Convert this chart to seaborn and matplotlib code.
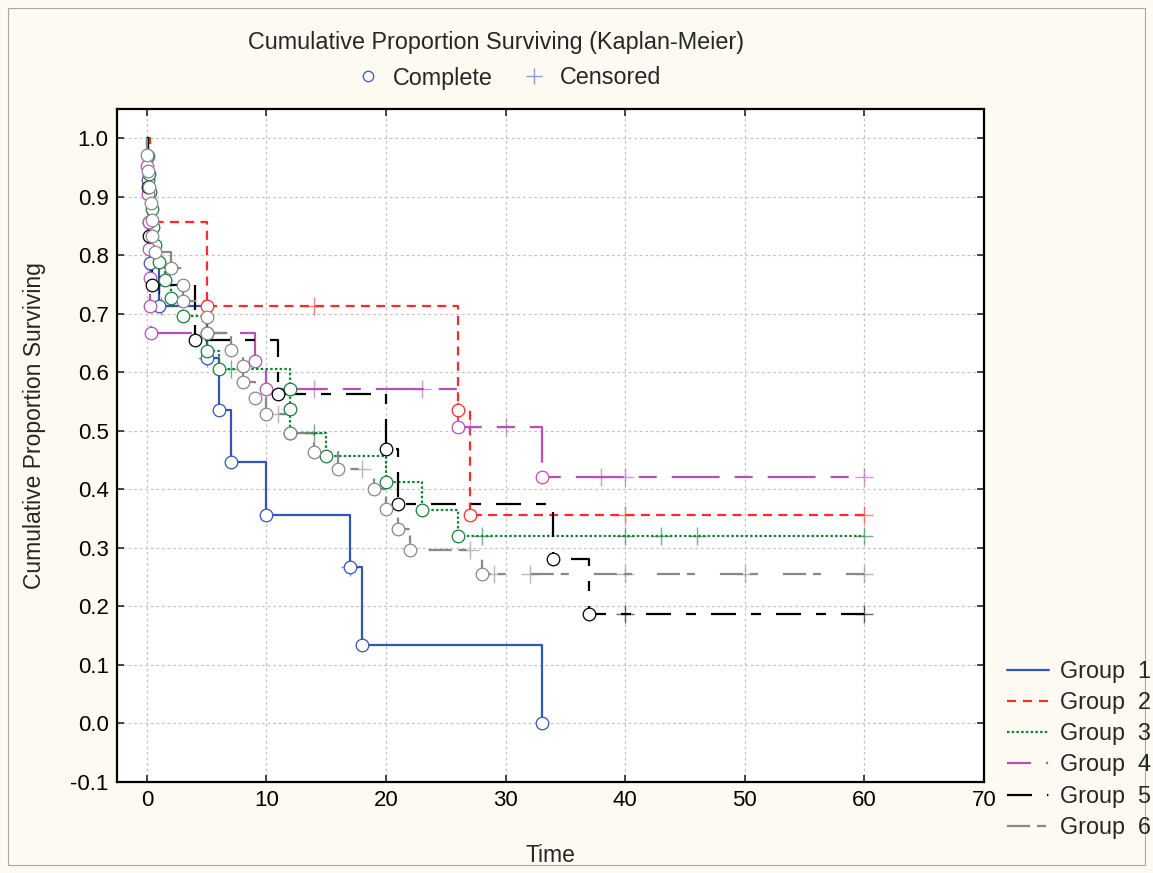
import numpy as np
import matplotlib
matplotlib.use("Agg")
import matplotlib.pyplot as plt
import seaborn as sns
from matplotlib.lines import Line2D
from matplotlib.patches import Rectangle

# ---------------- data ----------------
group_names = ["Group  1", "Group  2", "Group  3", "Group  4", "Group  5", "Group  6"]

g1_event_t = [0.1, 0.2, 0.3, 1, 5, 6, 7, 10, 17, 18, 33]
g1_event_s = [0.929, 0.857, 0.786, 0.714, 0.625, 0.536, 0.446, 0.357, 0.268, 0.134, 0.0]
g1_cens_t = [1.2, 5, 17]

g2_event_t = [0.3, 5, 26, 27]
g2_event_s = [0.857, 0.714, 0.536, 0.357]
g2_cens_t = [14, 40, 60]

g3_event_t = [0.1, 0.2, 0.3, 0.4, 0.5, 0.7, 1, 1.5, 2, 3, 5, 5, 6, 12, 12, 12, 15, 20, 23, 26]
g3_event_s = [0.970, 0.939, 0.909, 0.879, 0.848, 0.818, 0.788, 0.758, 0.727, 0.697,
              0.667, 0.636, 0.606, 0.571, 0.537, 0.497, 0.457, 0.413, 0.365, 0.321]
g3_cens_t = [7, 14, 28, 40, 43, 46, 60]

g4_event_t = [0.05, 0.1, 0.15, 0.2, 0.25, 0.3, 0.35, 9, 10, 26, 33]
g4_event_s = [0.952, 0.905, 0.857, 0.810, 0.762, 0.714, 0.667, 0.619, 0.571, 0.507, 0.422]
g4_cens_t = [14, 23, 27, 30, 38, 40, 60]

g5_event_t = [0.1, 0.2, 0.4, 4, 11, 20, 21, 34, 37]
g5_event_s = [0.917, 0.833, 0.75, 0.656, 0.5625, 0.469, 0.375, 0.281, 0.1875]
g5_cens_t = [1, 40, 60]

g6_event_t = [0.05, 0.1, 0.2, 0.35, 0.4, 0.45, 0.7, 2, 3, 3, 5, 5, 7, 8, 8, 9, 10,
              12, 14, 16, 19, 20, 21, 22, 28]
g6_event_s = [0.972, 0.944, 0.917, 0.889, 0.861, 0.833, 0.806, 0.778, 0.75, 0.722,
              0.694, 0.667, 0.639, 0.611, 0.583, 0.556, 0.528, 0.497, 0.464, 0.435,
              0.40, 0.366, 0.332, 0.297, 0.255]
g6_cens_t = [11, 18, 27, 29, 32, 40, 50, 60]

x_ticks = [0, 10, 20, 30, 40, 50, 60, 70]
y_ticks = [-0.1, 0.0, 0.1, 0.2, 0.3, 0.4, 0.5, 0.6, 0.7, 0.8, 0.9, 1.0]

# ---------------- styles ----------------
colors = ["#3355b5", "#ff2a2a", "#14803a", "#b850b8", "#000000", "#888888"]
line_patterns = [None, (6.5, 4.5), (1.8, 1.6), (34.5, 10.8, 13, 10.8),
                 (18, 10.8, 7.2, 10.8), (16.6, 5, 5.8, 18)]
legend_patterns = [None, (6.5, 5), (1.8, 1.6), (17.3, 10.8, 1.5, 10.8),
                   (18, 10.8, 1.0, 10.8), (16.6, 5, 6.5, 18)]

BG = "#fdfaf1"

sns.set_style("white")
plt.rcParams["font.family"] = ["Liberation Sans", "DejaVu Sans"]
plt.rcParams["lines.scale_dashes"] = False

W, H = 1153, 873
fig = plt.figure(figsize=(W / 100, H / 100), dpi=100, facecolor=BG)
ax_l, ax_r, ax_t, ax_b = 117, 984, 109, 782
ax = fig.add_axes([ax_l / W, 1 - ax_b / H, (ax_r - ax_l) / W, (ax_b - ax_t) / H])
ax.set_facecolor("white")

groups = [
    (g1_event_t, g1_event_s, g1_cens_t),
    (g2_event_t, g2_event_s, g2_cens_t),
    (g3_event_t, g3_event_s, g3_cens_t),
    (g4_event_t, g4_event_s, g4_cens_t),
    (g5_event_t, g5_event_s, g5_cens_t),
    (g6_event_t, g6_event_s, g6_cens_t),
]


def surv_at(t, et, es):
    idx = np.searchsorted(np.asarray(et), t, side="right")
    return 1.0 if idx == 0 else es[idx - 1]


for i, (et, es, ct) in enumerate(groups):
    c = colors[i]
    end = max(max(et), max(ct) if len(ct) else 0)
    xs = np.concatenate([[0.0], et, [end]])
    ys = np.concatenate([[1.0], es, [es[-1]]])
    ls = "-" if line_patterns[i] is None else (0, line_patterns[i])
    sns.lineplot(x=xs, y=ys, ax=ax, drawstyle="steps-post", estimator=None,
                 sort=False, color=c, lw=1.6, linestyle=ls, legend=False,
                 zorder=3)
    cy = [surv_at(t, et, es) for t in ct]
    sns.scatterplot(x=ct, y=cy, ax=ax, marker="+", s=170, color=c,
                    linewidth=1.0, alpha=0.6, legend=False, zorder=3.5)
    sns.scatterplot(x=et, y=es, ax=ax, marker="o", s=82, color=c,
                    facecolors="white", edgecolor=c, linewidth=0.9,
                    legend=False, zorder=4)

ax.set_xlim(-2.5, 70)
ax.set_ylim(-0.1, 1.05)
ax.set_xticks(x_ticks)
ax.set_yticks(y_ticks)
ax.set_xticklabels([str(v) for v in x_ticks])
ax.set_yticklabels([f"{v:.1f}" for v in y_ticks])
ax.grid(True, color="#c4c4c4", linestyle=(0, (2, 2)), lw=0.9)
ax.set_axisbelow(True)
ax.tick_params(direction="in", length=5, width=1.2, top=True, right=True,
               bottom=True, left=True, labelsize=16, pad=6, labelcolor="black")
for sp in ax.spines.values():
    sp.set_color("black")
    sp.set_linewidth(1.6)

ax.set_xlabel("Time", fontsize=16.5, va="center")
ax.xaxis.set_label_coords((550 - ax_l) / (ax_r - ax_l), (ax_b - 855) / (ax_b - ax_t))
ax.set_ylabel("Cumulative Proportion Surviving", fontsize=16.5, va="center")
ax.yaxis.set_label_coords((35 - ax_l) / (ax_r - ax_l), (ax_b - 426) / (ax_b - ax_t))

# Title and marker legend
fig.text(496 / W, 1 - 43 / H, "Cumulative Proportion Surviving (Kaplan-Meier)",
         ha="center", va="center", fontsize=16.8)
mk_handles = [
    Line2D([], [], marker="o", ls="none", markerfacecolor="none",
           markeredgecolor="#3a5ab0", ms=7.5, mew=0.9),
    Line2D([], [], marker="+", ls="none", color="#8c9bd2", ms=12, mew=1.0),
]
fig.legend(mk_handles, ["Complete", "Censored"], ncol=2, frameon=False,
           loc="center left", bbox_to_anchor=(356 / W, 1 - 78 / H),
           borderpad=0, borderaxespad=0, handlelength=1.0, handletextpad=0.6,
           columnspacing=1.25, fontsize=16.8)

# Group legend
g_handles = []
for i in range(6):
    ls = "-" if legend_patterns[i] is None else (0, legend_patterns[i])
    g_handles.append(Line2D([], [], color=colors[i], lw=1.6, linestyle=ls))
fig.legend(g_handles, group_names, frameon=False, loc="upper left",
           bbox_to_anchor=(1007 / W, 1 - 660 / H), borderpad=0,
           borderaxespad=0, handlelength=1.78, handletextpad=0.48,
           labelspacing=0.35, fontsize=16.8)

# outer frame
fig.patches.append(Rectangle((8 / W, 8 / H), (W - 16) / W, (H - 16) / H,
                             transform=fig.transFigure, fill=False,
                             ec="#a8a8a8", lw=0.8))

fig.savefig("out.png", dpi=100, facecolor=BG)
